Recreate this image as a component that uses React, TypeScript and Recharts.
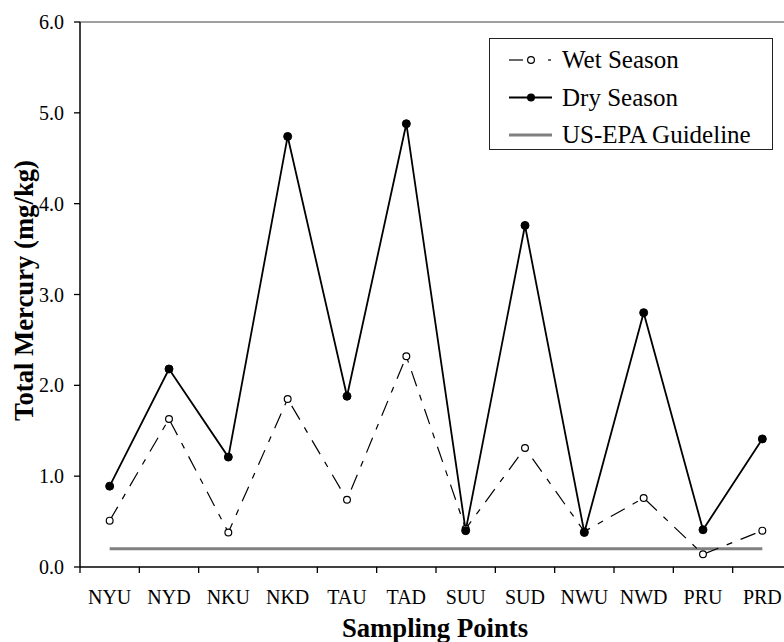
import React from "react";
import { LineChart, Line, XAxis, YAxis, Legend, ReferenceLine } from "recharts";

const sites = ["NYU", "NYD", "NKU", "NKD", "TAU", "TAD", "SUU", "SUD", "NWU", "NWD", "PRU", "PRD"];
const wetSeason = [0.51, 1.63, 0.38, 1.85, 0.74, 2.32, 0.42, 1.31, 0.39, 0.76, 0.14, 0.4];
const drySeason = [0.89, 2.18, 1.21, 4.74, 1.88, 4.88, 0.4, 3.76, 0.38, 2.8, 0.41, 1.41];
const epaGuideline = 0.2;
const yTicks = [0, 1, 2, 3, 4, 5, 6];

const data = sites.map((site, i) => ({
  site,
  wet: wetSeason[i],
  dry: drySeason[i],
  epa: epaGuideline,
}));

const FONT = "'Liberation Serif', 'Times New Roman', serif";
const CHART_W = 800;
const CHART_H = 642;
const MARGIN = { top: 22, right: 8, bottom: 0, left: 0 };
const Y_W = 80;
const X_H = 75;
const PLOT_W = CHART_W - MARGIN.left - MARGIN.right - Y_W;
const HALF = PLOT_W / sites.length / 2;

const WET_DASH = "16 9 6 9";

const SiteTick = (props: any) => {
  const { x, y, payload } = props;
  return (
    <g>
      <line x1={x - HALF} x2={x - HALF} y1={y - 6} y2={y} stroke="#000" strokeWidth={1.3} />
      <text x={x} y={y + 31} textAnchor="middle" fontSize={20} fontFamily={FONT} fill="#000">
        {payload.value}
      </text>
    </g>
  );
};

const WetDot = (props: any) => {
  const { cx, cy, index } = props;
  return <circle key={`w${index}`} cx={cx} cy={cy} r={3.4} fill="#fff" stroke="#000" strokeWidth={1.2} />;
};

const DryDot = (props: any) => {
  const { cx, cy, index } = props;
  return <circle key={`d${index}`} cx={cx} cy={cy} r={4} fill="#000" stroke="#000" strokeWidth={1} />;
};

const legendRows = [
  { key: "wet", label: "Wet Season" },
  { key: "dry", label: "Dry Season" },
  { key: "epa", label: "US-EPA Guideline" },
];

const LegendBox = () => (
  <div
    style={{
      width: 284,
      height: 112,
      boxSizing: "border-box",
      border: "1.3px solid #222",
      background: "#fff",
    }}
  >
    <svg width={282} height={110}>
      {legendRows.map((row, i) => {
        const cy = 21 + i * 37.5;
        return (
          <g key={row.key}>
            {row.key === "wet" && (
              <g>
                <line x1={19} x2={33} y1={cy} y2={cy} stroke="#000" strokeWidth={1.2} />
                <circle cx={41} cy={cy} r={3.4} fill="#fff" stroke="#000" strokeWidth={1.2} />
                <line x1={58} x2={61} y1={cy} y2={cy} stroke="#000" strokeWidth={1.2} />
              </g>
            )}
            {row.key === "dry" && (
              <g>
                <line x1={19} x2={62} y1={cy} y2={cy} stroke="#000" strokeWidth={1.8} />
                <circle cx={41} cy={cy} r={4} fill="#000" />
              </g>
            )}
            {row.key === "epa" && (
              <line x1={19} x2={62} y1={cy} y2={cy} stroke="#808080" strokeWidth={3} />
            )}
            <text x={72} y={cy + 8} fontSize={25} fontFamily={FONT} fill="#000">
              {row.label}
            </text>
          </g>
        );
      })}
    </svg>
  </div>
);

export default function App() {
  return (
    <div
      style={{
        position: "absolute",
        left: 0,
        top: 0,
        width: 784,
        height: 642,
        overflow: "hidden",
        background: "#fff",
      }}
    >
      <LineChart width={CHART_W} height={CHART_H} data={data} margin={MARGIN}>
        <XAxis
          dataKey="site"
          interval={0}
          height={X_H}
          padding={{ left: HALF, right: HALF }}
          tickLine={false}
          tickSize={6}
          tickMargin={0}
          axisLine={{ stroke: "#000", strokeWidth: 1.5 }}
          tick={<SiteTick />}
          label={{
            content: (p: any) => {
              const vb = p.viewBox;
              return (
                <text
                  x={vb.x + vb.width / 2 - 1}
                  y={vb.y + 70}
                  textAnchor="middle"
                  fontSize={26.7}
                  fontWeight="bold"
                  fontFamily={FONT}
                  fill="#000"
                >
                  Sampling Points
                </text>
              );
            },
          }}
        />
        <YAxis
          width={Y_W}
          domain={[0, 6]}
          ticks={yTicks}
          allowDataOverflow
          tickFormatter={(v: number) => v.toFixed(1)}
          tickSize={6}
          tickMargin={10}
          tick={{ fontSize: 20, fontFamily: FONT, fill: "#000" }}
          tickLine={{ stroke: "#000", strokeWidth: 1.3 }}
          axisLine={{ stroke: "#000", strokeWidth: 1.5 }}
          label={{
            content: (p: any) => {
              const vb = p.viewBox;
              return (
                <text
                  transform={`translate(${vb.x + 33},${vb.y + vb.height / 2 - 4}) rotate(-90)`}
                  textAnchor="middle"
                  fontSize={26.7}
                  fontWeight="bold"
                  fontFamily={FONT}
                  fill="#000"
                >
                  Total Mercury (mg/kg)
                </text>
              );
            },
          }}
        />
        <ReferenceLine y={6} stroke="#808080" strokeWidth={1.5} />
        <Line
          dataKey="epa"
          name="US-EPA Guideline"
          stroke="#808080"
          strokeWidth={3}
          dot={false}
          activeDot={false}
          isAnimationActive={false}
        />
        <Line
          dataKey="wet"
          name="Wet Season"
          stroke="#000"
          strokeWidth={1.2}
          strokeDasharray={WET_DASH}
          dot={<WetDot />}
          activeDot={false}
          isAnimationActive={false}
        />
        <Line
          dataKey="dry"
          name="Dry Season"
          stroke="#000"
          strokeWidth={1.8}
          dot={<DryDot />}
          activeDot={false}
          isAnimationActive={false}
        />
        <Legend
          layout="vertical"
          align="center"
          verticalAlign="middle"
          wrapperStyle={{ left: 489, top: 38, width: 284, height: 112 }}
          content={<LegendBox />}
        />
      </LineChart>
    </div>
  );
}
